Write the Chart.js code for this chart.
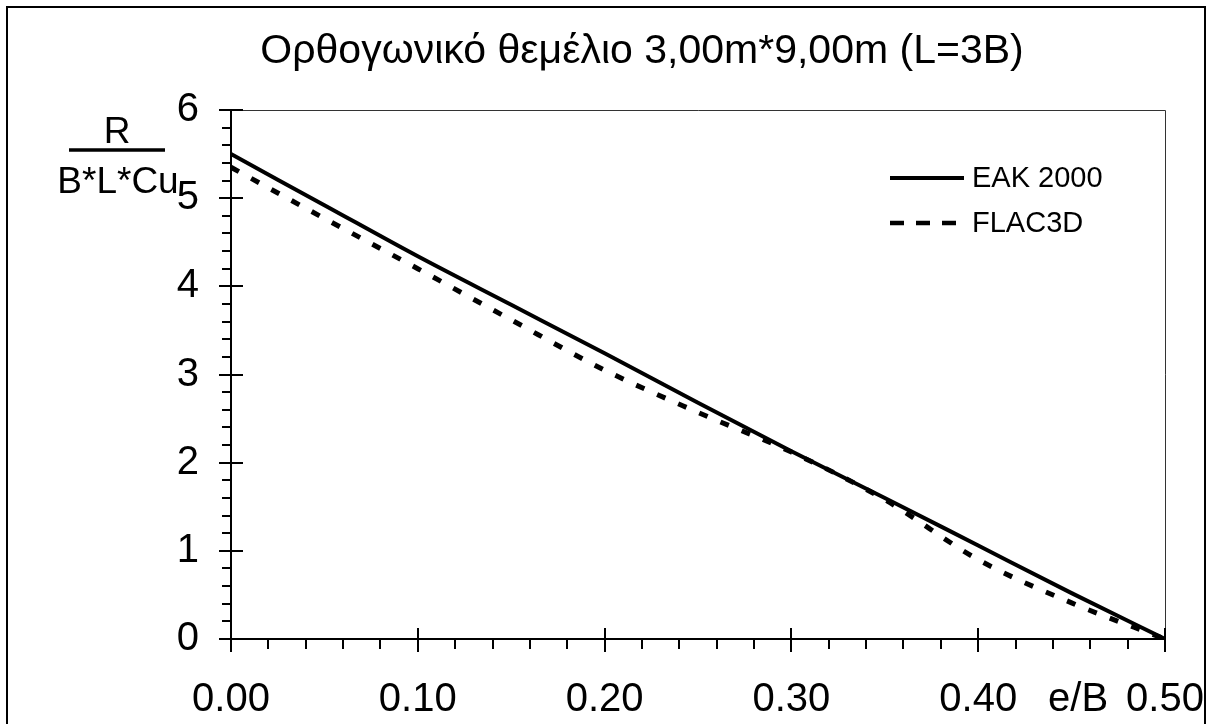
<!DOCTYPE html>
<html><head><meta charset="utf-8">
<script src="https://cdn.jsdelivr.net/npm/chart.js@4/dist/chart.umd.min.js"></script>
<style>html,body{margin:0;padding:0;background:#fff}#wrap{width:1215px;height:724px}</style>
</head><body><div id="wrap"><canvas id="c" width="1215" height="724"></canvas></div>
<script>
const titleText = 'Ορθογωνικό θεμέλιο 3,00m*9,00m (L=3B)';
const eB = [0, 0.05, 0.10, 0.15, 0.20, 0.25, 0.30, 0.35, 0.40, 0.45, 0.50];
const eak2000 = [5.50, 4.92, 4.34, 3.79, 3.24, 2.68, 2.13, 1.60, 1.06, 0.52, 0.00];
const flac3d = [5.35, 4.77, 4.20, 3.62, 3.05, 2.57, 2.12, 1.58, 0.90, 0.41, 0.00];
const xTicks = [0, 0.1, 0.2, 0.3, 0.4, 0.5];
const yTicks = [0, 1, 2, 3, 4, 5, 6];
const seriesNames = ['EAK 2000', 'FLAC3D'];
const xAxisLabel = 'e/B';
const yLabelTop = 'R';
const yLabelBottom = 'B*L*Cu';

const FONT = '"Liberation Sans", Arial, Helvetica, sans-serif';
const DASH = [9, 14];

const deco = {
  id: 'deco',
  afterDraw(chart) {
    const { ctx, chartArea: a, scales: { x, y } } = chart;
    ctx.save();
    // outer frame
    ctx.strokeStyle = '#000'; ctx.lineWidth = 2;
    ctx.strokeRect(7, 7, 1198, 780);
    // plot box top/right
    ctx.lineWidth = 1; ctx.strokeStyle = '#333';
    ctx.beginPath();
    ctx.moveTo(a.left, a.top + 0.5); ctx.lineTo(a.right + 0.5, a.top + 0.5); ctx.lineTo(a.right + 0.5, a.bottom);
    ctx.stroke();
    // axes
    ctx.strokeStyle = '#000'; ctx.lineWidth = 2;
    ctx.beginPath();
    ctx.moveTo(a.left, a.top); ctx.lineTo(a.left, a.bottom); ctx.lineTo(a.right + 1, a.bottom);
    ctx.stroke();
    // y ticks
    ctx.lineWidth = 2;
    const yMin = yTicks[0], yMax = yTicks[yTicks.length - 1];
    for (let i = 0; i <= (yMax - yMin) * 5; i++) {
      const v = yMin + i / 5;
      const py = Math.round(y.getPixelForValue(v));
      ctx.beginPath();
      if (i % 5 === 0) { ctx.moveTo(a.left - 12, py); ctx.lineTo(a.left + 12, py); }
      else { ctx.moveTo(a.left - 9, py); ctx.lineTo(a.left, py); }
      ctx.stroke();
    }
    // x ticks
    const xMin = xTicks[0], xMax = xTicks[xTicks.length - 1];
    const nx = Math.round((xMax - xMin) / 0.02);
    for (let i = 0; i <= nx; i++) {
      const v = xMin + i * 0.02;
      const px = Math.round(x.getPixelForValue(v));
      ctx.beginPath();
      if (i % 5 === 0) { ctx.moveTo(px, a.bottom - 11); ctx.lineTo(px, a.bottom + 13); }
      else { ctx.moveTo(px, a.bottom); ctx.lineTo(px, a.bottom + 10); }
      ctx.stroke();
    }
    // title
    ctx.fillStyle = '#000';
    ctx.font = '41px ' + FONT;
    ctx.textAlign = 'center'; ctx.textBaseline = 'alphabetic';
    ctx.fillText(titleText, 642, 63);
    // x axis label
    ctx.font = '40px ' + FONT;
    ctx.fillText(xAxisLabel, x.getPixelForValue(0.4535), 711);
    // y axis label (fraction)
    ctx.font = '37px ' + FONT;
    ctx.fillText(yLabelTop, 117, 143);
    ctx.fillText(yLabelBottom, 118, 193);
    ctx.lineWidth = 3.5;
    ctx.beginPath(); ctx.moveTo(69, 150); ctx.lineTo(165, 150); ctx.stroke();
    // legend
    ctx.lineWidth = 4;
    ctx.beginPath(); ctx.moveTo(890, 178); ctx.lineTo(964, 178); ctx.stroke();
    ctx.setLineDash([14, 12]);
    ctx.lineWidth = 4.5;
    ctx.beginPath(); ctx.moveTo(890, 223); ctx.lineTo(964, 223); ctx.stroke();
    ctx.setLineDash([]);
    ctx.font = '29px ' + FONT;
    ctx.textAlign = 'left'; ctx.textBaseline = 'middle';
    ctx.fillText(seriesNames[0], 972, 179);
    ctx.fillText(seriesNames[1], 972, 224);
    ctx.restore();
  }
};

new Chart(document.getElementById('c'), {
  type: 'line',
  data: {
    datasets: [
      { label: seriesNames[0], data: eB.map((v, i) => ({ x: v, y: eak2000[i] })),
        borderColor: '#000', borderWidth: 4, pointRadius: 0, cubicInterpolationMode: 'monotone', fill: false },
      { label: seriesNames[1], data: eB.map((v, i) => ({ x: v, y: flac3d[i] })),
        borderColor: '#000', borderWidth: 5, borderDash: DASH, pointRadius: 0, cubicInterpolationMode: 'monotone', fill: false }
    ]
  },
  options: {
    responsive: false, animation: false,
    layout: { padding: { top: 110, right: 50, left: 0, bottom: 0 } },
    plugins: { legend: { display: false }, title: { display: false }, tooltip: { enabled: false } },
    scales: {
      x: {
        type: 'linear', min: xTicks[0], max: xTicks[xTicks.length - 1],
        afterFit(s) { s.height = 85; s.paddingLeft = 0; s.paddingRight = 0; },
        afterBuildTicks(s) { s.ticks = xTicks.map(v => ({ value: v })); },
        grid: { display: false, drawTicks: false }, border: { display: false },
        ticks: { padding: 37, color: '#000', font: { family: FONT, size: 40 }, maxRotation: 0, autoSkip: false,
          callback: v => Number(v).toFixed(2) }
      },
      y: {
        type: 'linear', min: yTicks[0], max: yTicks[yTicks.length - 1],
        afterFit(s) { s.width = 231; s.paddingTop = 0; s.paddingBottom = 0; },
        afterBuildTicks(s) { s.ticks = yTicks.map(v => ({ value: v })); },
        grid: { display: false, drawTicks: false }, border: { display: false },
        ticks: { padding: 32, color: '#000', font: { family: FONT, size: 40 }, autoSkip: false,
          callback: v => String(v) }
      }
    }
  },
  plugins: [deco]
});
</script></body></html>
